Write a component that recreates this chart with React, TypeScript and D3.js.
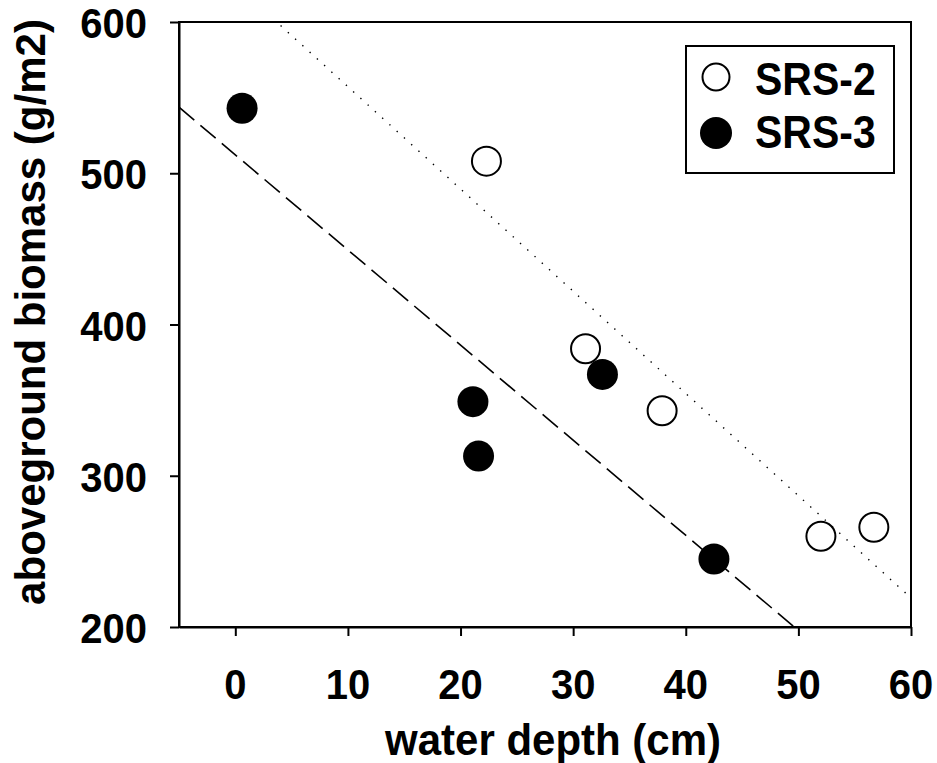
import React, { useRef, useEffect } from "react";
import { select, scaleLinear, axisLeft, axisBottom, line } from "d3";

// water depth (cm) vs aboveground biomass (g/m2)
const srs2Depth = [22.3, 31.1, 37.9, 52.0, 56.7];
const srs2Biomass = [508, 384, 343, 260, 266];
const srs3Depth = [0.6, 21.1, 21.6, 32.6, 42.5];
const srs3Biomass = [543, 349, 313, 367, 245];

// linear fits: [intercept, slope]
const srs2Fit = [624.8, -6.76];
const srs3Fit = [512.2, -6.29];

const xTicks = [0, 10, 20, 30, 40, 50, 60];
const yTicks = [200, 300, 400, 500, 600];
const seriesNames = ["SRS-2", "SRS-3"];

const W = 937;
const H = 763;
const left = 179, right = 911, top = 22, bottom = 627;
const font = "'Liberation Sans', Arial, sans-serif";

function App() {
  const svgRef = useRef(null);

  useEffect(() => {
    const svg = select(svgRef.current);
    svg.selectAll("*").remove();

    const x = scaleLinear().domain([-5, 60]).range([left, right]);
    const y = scaleLinear().domain([200, 600]).range([bottom, top]);

    // text with the glyphs stretched vertically like the source image
    const label = (g, tx, ty, s, size, anchor, str) =>
      g.append("text")
        .attr("transform", `translate(${tx},${ty}) scale(1,${s})`)
        .attr("text-anchor", anchor)
        .style("font-family", font)
        .style("font-weight", "bold")
        .style("font-size", size + "px")
        .text(str);

    svg.append("defs").append("clipPath").attr("id", "plotclip")
      .append("rect")
      .attr("x", left).attr("y", top)
      .attr("width", right - left).attr("height", bottom - top);

    // fit lines
    const fitLine = line<number>().x((d) => x(d[0])).y((d) => y(d[1]));
    const fitPts = (fit) => [-5, 60].map((d) => [d, fit[0] + fit[1] * d]);
    const plot = svg.append("g").attr("clip-path", "url(#plotclip)");
    plot.append("path")
      .attr("d", fitLine(fitPts(srs3Fit)))
      .attr("fill", "none").attr("stroke", "#000").attr("stroke-width", 1.6)
      .attr("stroke-dasharray", "20,8");
    plot.append("path")
      .attr("d", fitLine(fitPts(srs2Fit)))
      .attr("fill", "none").attr("stroke", "#000").attr("stroke-width", 1.4)
      .attr("stroke-dasharray", "1.4,8.4");

    // frame
    svg.append("rect")
      .attr("x", left).attr("y", top)
      .attr("width", right - left).attr("height", bottom - top)
      .attr("fill", "none").attr("stroke", "#000").attr("stroke-width", 2);

    const yAxis = axisLeft(y).tickValues(yTicks).tickSize(9).tickSizeOuter(0).tickFormat(() => "");
    const gy = svg.append("g").attr("transform", `translate(${left},0)`).call(yAxis);
    const xAxis = axisBottom(x).tickValues(xTicks).tickSize(9).tickSizeOuter(0).tickFormat(() => "");
    const gx = svg.append("g").attr("transform", `translate(0,${bottom})`).call(xAxis);
    [gx, gy].forEach((g) => {
      g.select(".domain").attr("stroke", "#000").attr("stroke-width", 2);
      g.selectAll(".tick line").attr("stroke", "#000").attr("stroke-width", 2);
    });
    xTicks.forEach((t) => label(svg, x(t), 699, 1.08, 40, "middle", String(t)));
    yTicks.forEach((t) => label(svg, 147, y(t) + 16, 1.06, 40, "end", String(t)));

    // points
    srs3Depth.forEach((d, i) => {
      svg.append("circle")
        .attr("cx", x(d)).attr("cy", y(srs3Biomass[i])).attr("r", 15.5)
        .attr("fill", "#000");
    });
    srs2Depth.forEach((d, i) => {
      svg.append("circle")
        .attr("cx", x(d)).attr("cy", y(srs2Biomass[i])).attr("r", 14.5)
        .attr("fill", "#fff").attr("stroke", "#000").attr("stroke-width", 2);
    });

    // legend
    const lg = svg.append("g");
    lg.append("rect")
      .attr("x", 686).attr("y", 46).attr("width", 208).attr("height", 127)
      .attr("fill", "#fff").attr("stroke", "#000").attr("stroke-width", 2);
    lg.append("circle").attr("cx", 716).attr("cy", 77).attr("r", 13.5)
      .attr("fill", "#fff").attr("stroke", "#000").attr("stroke-width", 2);
    lg.append("circle").attr("cx", 716).attr("cy", 133).attr("r", 16).attr("fill", "#000");
    seriesNames.forEach((n, i) => label(lg, 755, 95 + i * 53, 1.12, 41, "start", n));

    // axis titles
    label(svg, 553, 755, 1.06, 42, "middle", "water depth (cm)");
    svg.append("text")
      .attr("transform", `translate(45,312) rotate(-90)`)
      .attr("text-anchor", "middle")
      .style("font-family", font).style("font-weight", "bold").style("font-size", "42px")
      .text("aboveground biomass (g/m2)");
  }, []);

  return (
    <div style={{ position: "absolute", left: 0, top: 0 }}>
      <svg ref={svgRef} width={W} height={H} style={{ display: "block", background: "#fff" }} />
    </div>
  );
}

export default App;
